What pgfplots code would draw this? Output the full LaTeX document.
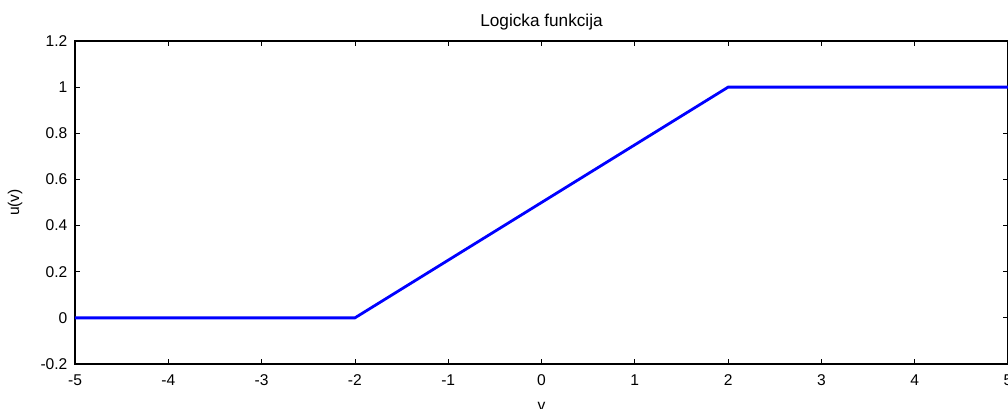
\documentclass[border=0pt]{standalone}
\usepackage{fontspec}
\setmainfont{Liberation Sans}
\usepackage{pgfplots}
\pgfplotsset{compat=1.18}
\begin{document}
\fontsize{7.8}{9}\selectfont
\begin{tikzpicture}
  \begin{axis}[
    scale only axis,
    width=466.5pt, height=161.5pt,
    xmin=-5, xmax=5, ymin=-0.2, ymax=1.2,
    xtick={-5,-4,...,5},
    xticklabels={-5,-4,-3,-2,-1,0,1,2,3,4,5},
    ytick={-0.2,0,0.2,0.4,0.6,0.8,1,1.2},
    yticklabels={-0.2,0,0.2,0.4,0.6,0.8,1,1.2},
    tick align=inside,
    major tick length=2.5pt,
    tick style={black, line width=0.4pt},
    axis line style={line width=0.6pt},
    xticklabel style={yshift=-2.5pt},
    yticklabel style={xshift=-1pt},
    title={Logicka funkcija},
    every axis title/.style={at={(rel axis cs:0.5,1)}, yshift=9.5pt, anchor=center, font=\fontsize{8.6}{10}\selectfont},
    xlabel={v},
    every axis x label/.style={at={(rel axis cs:0.5,0)}, yshift=-21pt, anchor=center},
    ylabel={u(v)},
    every axis y label/.style={at={(rel axis cs:0,0.5)}, xshift=-30pt, rotate=90, anchor=center},
    /pgf/number format/assume math mode=true,
  ]
    \addplot[color=blue, line width=1.4pt] coordinates {
      (-5, 0)
      (-2, 0)
      ( 2, 1)
      ( 5, 1)
    };
    \coordinate (bl) at (rel axis cs:0,0);
    \coordinate (tr) at (rel axis cs:1,1);
  \end{axis}
  \pgfresetboundingbox
  \path ([shift={(-37.5pt,-22pt)}]bl) rectangle ([yshift=20.5pt]tr);
\end{tikzpicture}
\end{document}
